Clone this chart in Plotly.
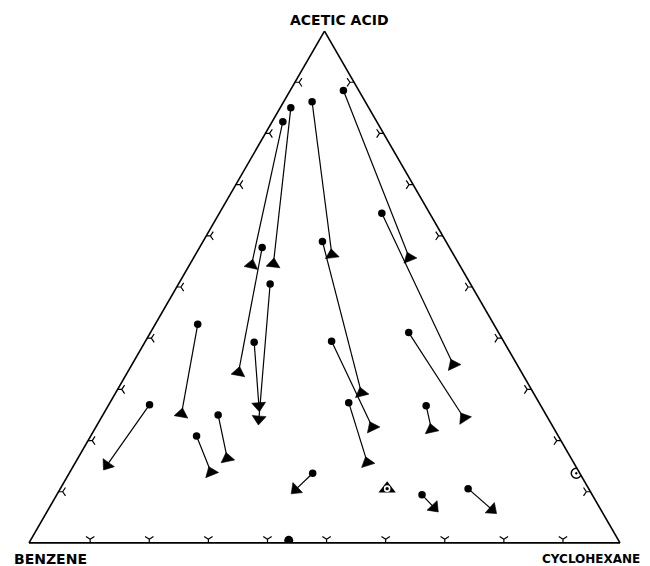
import plotly.graph_objects as go

# Tie lines: start (dot) and end (triangle) compositions, in percent
dot_acetic = [88.4, 86.2, 85.0, 82.3, 64.4, 58.9, 57.7, 50.6, 39.2, 42.7, 27.0, 25.0, 20.9, 13.6, 39.4, 27.4, 41.1, 26.8, 9.4, 10.6]
dot_benzene = [2.6, 9.0, 13.2, 15.9, 8.1, 20.9, 31.7, 33.9, 42.3, 50.1, 66.1, 55.5, 61.2, 45.2, 29.1, 32.2, 15.2, 19.4, 28.8, 20.4]
dot_cyclohexane = [9.0, 4.8, 1.8, 1.8, 27.5, 20.2, 10.6, 15.5, 18.5, 7.2, 6.9, 19.5, 17.9, 41.2, 31.5, 40.4, 43.7, 53.8, 61.8, 69.0]

tri_acetic = [55.7, 56.3, 54.5, 54.3, 34.8, 29.3, 33.3, 24.2, 26.8, 25.2, 15.2, 16.5, 13.8, 10.4, 22.6, 15.7, 24.4, 22.2, 6.9, 6.5]
tri_benzene = [7.8, 20.6, 31.4, 35.2, 10.8, 29.1, 47.9, 49.0, 47.7, 61.6, 79.2, 58.2, 62.3, 49.7, 30.6, 34.9, 14.2, 20.8, 28.0, 18.4]
tri_cyclohexane = [36.5, 23.1, 14.1, 10.5, 54.4, 41.6, 18.8, 26.8, 25.5, 13.2, 5.6, 25.3, 23.9, 39.9, 46.8, 49.4, 61.4, 57.0, 65.1, 75.1]

# head orientation of each tie line end
head_forward = [False, False, False, False, False, False, False, True, True, False,
                True, False, False, True, False, False, False, False, True, True]

# special points
plait_point = (10.6, 34.1, 55.3)      # acetic, benzene, cyclohexane
edge_point = (13.6, 0.6, 85.8)
base_point = (0.5, 55.8, 43.7)

tick_values = [10, 20, 30, 40, 50, 60, 70, 80, 90]
vertex_labels = ["ACETIC ACID", "BENZENE", "CYCLOHEXANE"]

fig = go.Figure()

for i in range(len(dot_acetic)):
    end_sym = "triangle-up" if head_forward[i] else "triangle-down"
    fig.add_trace(go.Scatterternary(
        a=[dot_acetic[i], tri_acetic[i]],
        b=[dot_benzene[i], tri_benzene[i]],
        c=[dot_cyclohexane[i], tri_cyclohexane[i]],
        mode="lines+markers",
        line=dict(color="black", width=1.2),
        marker=dict(symbol=["circle", end_sym], size=[0, 12], color="black", opacity=1,
                    angleref="previous", line=dict(width=0.6, color="black")),
        hoverinfo="skip", showlegend=False,
    ))

# start dots
fig.add_trace(go.Scatterternary(
    a=dot_acetic, b=dot_benzene, c=dot_cyclohexane, mode="markers",
    marker=dict(symbol="circle", size=7.5, color="black", opacity=1, line=dict(width=0)),
    hoverinfo="skip", showlegend=False))

# plait point: filled triangle with open circle inside
fig.add_trace(go.Scatterternary(
    a=[plait_point[0]], b=[plait_point[1]], c=[plait_point[2]], mode="markers",
    marker=dict(symbol="triangle-up", size=15, color="black", opacity=1),
    hoverinfo="skip", showlegend=False))
fig.add_trace(go.Scatterternary(
    a=[plait_point[0]], b=[plait_point[1]], c=[plait_point[2]], mode="markers",
    marker=dict(symbol="circle-open", size=5, color="white", line=dict(width=1.6, color="white")),
    hoverinfo="skip", showlegend=False))
# bullseye on right edge
fig.add_trace(go.Scatterternary(
    a=[edge_point[0]], b=[edge_point[1]], c=[edge_point[2]], mode="markers",
    marker=dict(symbol="circle-open-dot", size=10, color="black", line=dict(width=1.5, color="black")),
    hoverinfo="skip", showlegend=False))
# dot on base
fig.add_trace(go.Scatterternary(
    a=[base_point[0]], b=[base_point[1]], c=[base_point[2]], mode="markers",
    marker=dict(symbol="circle", size=9, color="black", opacity=1),
    hoverinfo="skip", showlegend=False))

# edge tick chevrons
fig.add_trace(go.Scatterternary(  # bottom edge
    a=[0.7] * len(tick_values), b=[100 - 0.7 - v for v in tick_values], c=tick_values, mode="markers",
    marker=dict(symbol="y-down", size=7, color="black", line=dict(width=1.2, color="black")),
    hoverinfo="skip", showlegend=False))
fig.add_trace(go.Scatterternary(  # left edge
    a=tick_values, b=[100 - 0.7 - v for v in tick_values], c=[0.7] * len(tick_values), mode="markers",
    marker=dict(symbol="y-left", size=7, color="black", line=dict(width=1.2, color="black")),
    hoverinfo="skip", showlegend=False))
fig.add_trace(go.Scatterternary(  # right edge
    a=tick_values, b=[0.7] * len(tick_values), c=[100 - 0.7 - v for v in tick_values], mode="markers",
    marker=dict(symbol="y-right", size=7, color="black", line=dict(width=1.2, color="black")),
    hoverinfo="skip", showlegend=False))

axis_style = dict(title=dict(text=""), showgrid=False, showticklabels=False, ticks="",
                  showline=True, linecolor="black", linewidth=1.6, min=0)

fig.update_layout(
    width=650, height=566,
    margin=dict(l=21, r=38, t=23, b=31),
    paper_bgcolor="white", plot_bgcolor="white",
    showlegend=False,
    ternary=dict(sum=100, bgcolor="white",
                 aaxis=axis_style, baxis=axis_style, caxis=axis_style),
    font=dict(family="DejaVu Sans", color="black"),
    annotations=[
        dict(text="<b>" + vertex_labels[0] + "</b>", x=0.526, y=1.021, xref="paper", yref="paper",
             showarrow=False, font=dict(size=14), xanchor="center", yanchor="middle"),
        dict(text="<b>" + vertex_labels[1] + "</b>", x=0.036, y=-0.031, xref="paper", yref="paper",
             showarrow=False, font=dict(size=14), xanchor="center", yanchor="middle"),
        dict(text="<b>" + vertex_labels[2] + "</b>", x=0.951, y=-0.031, xref="paper", yref="paper",
             showarrow=False, font=dict(size=12), xanchor="center", yanchor="middle"),
    ],
)

fig.write_html("out.html")
